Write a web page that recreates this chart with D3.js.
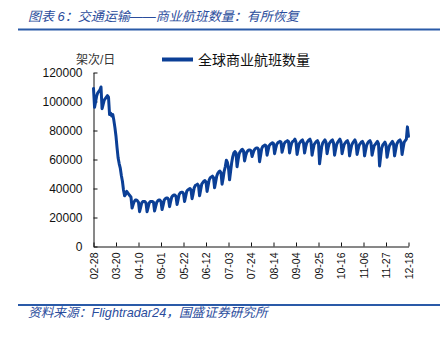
<!DOCTYPE html>
<html>
<head>
<meta charset="utf-8">
<script src="https://cdn.jsdelivr.net/npm/d3@7"></script>
<style>
  html, body { margin: 0; padding: 0; background: #fff; }
  svg { display: block; }
</style>
</head>
<body>
<svg id="chart" width="447" height="340"></svg>
<script>
// ---------- data ----------
const startDate = "2020-02-28";
const seriesName = "全球商业航班数量";
const yUnit = "架次/日";
const yTicks = [0, 20000, 40000, 60000, 80000, 100000, 120000];
const xTickLabels = ["02-28","03-20","04-10","05-01","05-22","06-12","07-03","07-24",
                     "08-14","09-04","09-25","10-16","11-06","11-27","12-18"];
// daily commercial flights (Fri 02-28, then weeks Sat..Fri)
const flights = [
  109000,
  96000,100000,104000,106000,107000,108000,110000,
  95000,98000,101000,102000,103000,104000,103000,
  91000,92000,90000,91000,87000,82000,76000,
  68000,61000,57000,54000,49000,45000,39000,
  35000,36000,38000,37000,36000,35000,34000,
  26500,29000,31000,32000,32000,31500,30500,
  24000,27000,30000,31000,31000,31000,30000,
  24000,27000,30000,31000,31000,31000,30500,
  24500,27500,30500,31500,32000,32000,31000,
  25500,28500,32000,33000,33500,33500,32500,
  27500,31000,34000,35000,35500,35500,34500,
  29000,32500,36000,37000,37500,37500,36500,
  31000,34500,38000,39000,39500,40000,39000,
  33000,36500,40500,42000,42500,43000,42000,
  35000,39000,43000,44000,45000,45500,44500,
  38000,42000,46000,47500,48000,48500,47500,
  40500,44500,48500,50500,51500,52000,51000,
  43000,47000,52000,55000,59500,58000,54000,
  46000,52000,58000,62000,64500,65500,64500,
  55000,60000,64000,65500,66500,67000,66000,
  59000,62500,65000,66000,66500,66500,66000,
  62000,64500,66500,67500,68000,68000,67000,
  58500,63000,67500,69000,69500,70000,69500,
  63000,66500,69500,70500,71000,71500,71000,
  64000,67500,70500,71500,72000,72500,72000,
  65000,68000,71000,72000,72500,73000,72500,
  64500,68500,71500,72500,73000,74000,72000,
  63500,67500,71000,72000,73000,73500,71500,
  64500,68500,71500,72500,73500,74000,72000,
  63000,67000,70500,71500,72500,73000,71500,
  57000,63000,69000,71500,72500,73500,72000,
  64000,68000,71000,72000,73000,73500,71500,
  63000,67000,70500,72000,73000,74000,72000,
  64000,67500,70500,71500,72500,73000,71000,
  62500,66500,70000,71500,72500,73500,71500,
  63500,67000,70000,71000,72000,72500,71000,
  62500,66500,70000,71500,72500,73000,71500,
  63000,66500,69500,70500,71500,72500,71000,
  55500,62000,68000,70000,71000,72000,70000,
  61500,65500,69000,70500,71500,72500,71000,
  62500,66500,70500,72000,73000,73500,72000,
  63500,68000,72000,73000,74000,82500,76000
];

// ---------- chart ----------
(function () {
const svg = d3.select("#chart");
const blue = "#0b3f96";
const titleBlue = "#2a4c9c";
const latinCjk = "'Liberation Sans', 'Noto Sans CJK SC', sans-serif";

const parse = d3.timeParse("%Y-%m-%d");
const start = parse(startDate);
const year = startDate.slice(0, 4);
const dates = flights.map((v, i) => d3.timeDay.offset(start, i));
const data = flights.map((v, i) => ({ date: dates[i], value: v }));

const pLeft = 93.5, pRight = 408.5, pTop = 72.5, pBottom = 246.5;
const x = d3.scaleTime().domain(d3.extent(dates)).range([pLeft, pRight]);
const y = d3.scaleLinear().domain([0, 120000]).range([pBottom, pTop]);

// title
svg.append("text")
  .attr("x", 28).attr("y", 21)
  .attr("font-family", latinCjk).attr("font-size", 13)
  .attr("font-style", "italic").attr("fill", titleBlue)
  .text("图表 6：交通运输——商业航班数量：有所恢复");
svg.append("line").attr("x1", 18).attr("x2", 440).attr("y1", 29.5).attr("y2", 29.5)
  .attr("stroke", "#2a5aa8").attr("stroke-width", 1.8);

// unit label
svg.append("text")
  .attr("x", 76).attr("y", 64)
  .attr("font-family", latinCjk).attr("font-size", 12).attr("fill", "#333")
  .text(yUnit);

// legend
svg.append("line").attr("x1", 162).attr("x2", 193).attr("y1", 59.5).attr("y2", 59.5)
  .attr("stroke", blue).attr("stroke-width", 4);
svg.append("text")
  .attr("x", 198).attr("y", 64.5)
  .attr("font-family", latinCjk).attr("font-size", 14).attr("fill", "#111")
  .text(seriesName);

// y axis
const yAxis = d3.axisLeft(y).tickValues(yTicks).tickFormat(d3.format("d"))
  .tickSizeInner(-4).tickSizeOuter(0).tickPadding(11);
const gy = svg.append("g").attr("transform", `translate(${pLeft},0)`).call(yAxis);
gy.selectAll("text").attr("font-family", "'Liberation Sans', sans-serif")
  .attr("font-size", 12).attr("fill", "#111");
gy.selectAll("line, path").attr("stroke", "#111");

// x axis
const tickDates = xTickLabels.map(l => parse(year + "-" + l));
const xAxis = d3.axisBottom(x).tickValues(tickDates).tickFormat(d3.timeFormat("%m-%d"))
  .tickSizeInner(-4).tickSizeOuter(0);
const gx = svg.append("g").attr("transform", `translate(0,${pBottom})`).call(xAxis);
gx.selectAll("line, path").attr("stroke", "#111");
gx.selectAll("text")
  .attr("font-family", "'Liberation Sans', sans-serif")
  .attr("font-size", 10.5).attr("fill", "#111")
  .attr("text-anchor", "end")
  .attr("transform", "rotate(-90)")
  .attr("x", -6).attr("y", 0).attr("dy", "0.35em");

// line
const line = d3.line().x(d => x(d.date)).y(d => y(d.value));
svg.append("path").datum(data)
  .attr("d", line)
  .attr("fill", "none").attr("stroke", blue).attr("stroke-width", 3)
  .attr("stroke-linejoin", "round").attr("stroke-linecap", "round");

// footer
svg.append("line").attr("x1", 18).attr("x2", 440).attr("y1", 305).attr("y2", 305)
  .attr("stroke", "#2a5aa8").attr("stroke-width", 1.8);
svg.append("text")
  .attr("x", 28).attr("y", 317)
  .attr("font-family", latinCjk).attr("font-size", 12.7)
  .attr("font-style", "italic").attr("fill", titleBlue)
  .text("资料来源：Flightradar24，国盛证券研究所");
})();
</script>
</body>
</html>
